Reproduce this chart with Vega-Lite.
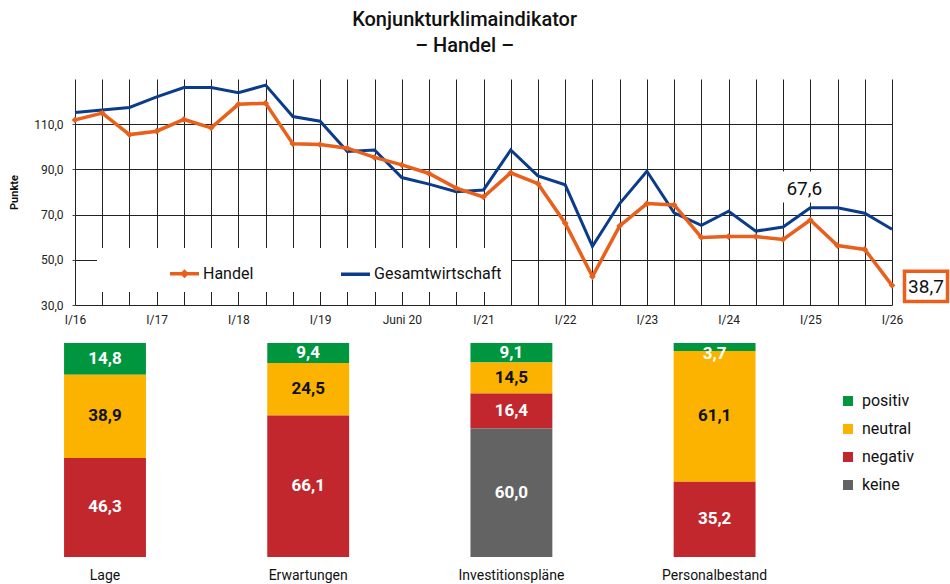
{
  "$schema": "https://vega.github.io/schema/vega-lite/v6.json",
  "padding": {"left": 8, "top": 10, "right": 2, "bottom": 2},
  "config": {
    "font": "Roboto",
    "view": {"stroke": null},
    "locale": {"number": {"decimal": ",", "thousands": ".", "grouping": [3], "currency": ["", " €"]}}
  },
  "title": {
    "text": ["Konjunkturklimaindikator", "– Handel –"],
    "fontSize": 20,
    "fontWeight": 500,
    "lineHeight": 26,
    "anchor": "middle",
    "color": "#111",
    "offset": 23,
    "dx": -17
  },
  "spacing": 17,
  "resolve": {"scale": {"color": "independent"}, "legend": {"color": "independent"}},
  "datasets": {
    "klima": [
      {"p": "I/16", "Reihe": "Handel", "v": 111.9},
      {"p": "II/16", "Reihe": "Handel", "v": 114.9},
      {"p": "III/16", "Reihe": "Handel", "v": 105.4},
      {"p": "I/17", "Reihe": "Handel", "v": 106.9},
      {"p": "II/17", "Reihe": "Handel", "v": 112.1},
      {"p": "III/17", "Reihe": "Handel", "v": 108.4},
      {"p": "I/18", "Reihe": "Handel", "v": 118.8},
      {"p": "II/18", "Reihe": "Handel", "v": 119.3},
      {"p": "III/18", "Reihe": "Handel", "v": 101.3},
      {"p": "I/19", "Reihe": "Handel", "v": 101.0},
      {"p": "II/19", "Reihe": "Handel", "v": 99.4},
      {"p": "III/19", "Reihe": "Handel", "v": 95.3},
      {"p": "Juni 20", "Reihe": "Handel", "v": 92.0},
      {"p": "II/20", "Reihe": "Handel", "v": 88.2},
      {"p": "III/20", "Reihe": "Handel", "v": 81.7},
      {"p": "I/21", "Reihe": "Handel", "v": 77.8},
      {"p": "II/21", "Reihe": "Handel", "v": 88.5},
      {"p": "III/21", "Reihe": "Handel", "v": 83.7},
      {"p": "I/22", "Reihe": "Handel", "v": 66.2},
      {"p": "II/22", "Reihe": "Handel", "v": 42.6},
      {"p": "III/22", "Reihe": "Handel", "v": 65.0},
      {"p": "I/23", "Reihe": "Handel", "v": 74.9},
      {"p": "II/23", "Reihe": "Handel", "v": 74.3},
      {"p": "III/23", "Reihe": "Handel", "v": 59.9},
      {"p": "I/24", "Reihe": "Handel", "v": 60.3},
      {"p": "II/24", "Reihe": "Handel", "v": 60.3},
      {"p": "III/24", "Reihe": "Handel", "v": 59.0},
      {"p": "I/25", "Reihe": "Handel", "v": 67.6},
      {"p": "II/25", "Reihe": "Handel", "v": 56.3},
      {"p": "III/25", "Reihe": "Handel", "v": 54.6},
      {"p": "I/26", "Reihe": "Handel", "v": 38.7},
      {"p": "I/16", "Reihe": "Gesamtwirtschaft", "v": 115.2},
      {"p": "II/16", "Reihe": "Gesamtwirtschaft", "v": 116.3},
      {"p": "III/16", "Reihe": "Gesamtwirtschaft", "v": 117.4},
      {"p": "I/17", "Reihe": "Gesamtwirtschaft", "v": 122.1},
      {"p": "II/17", "Reihe": "Gesamtwirtschaft", "v": 126.2},
      {"p": "III/17", "Reihe": "Gesamtwirtschaft", "v": 126.2},
      {"p": "I/18", "Reihe": "Gesamtwirtschaft", "v": 123.9},
      {"p": "II/18", "Reihe": "Gesamtwirtschaft", "v": 127.3},
      {"p": "III/18", "Reihe": "Gesamtwirtschaft", "v": 113.4},
      {"p": "I/19", "Reihe": "Gesamtwirtschaft", "v": 111.3},
      {"p": "II/19", "Reihe": "Gesamtwirtschaft", "v": 97.9},
      {"p": "III/19", "Reihe": "Gesamtwirtschaft", "v": 98.6},
      {"p": "Juni 20", "Reihe": "Gesamtwirtschaft", "v": 86.4},
      {"p": "II/20", "Reihe": "Gesamtwirtschaft", "v": 83.5},
      {"p": "III/20", "Reihe": "Gesamtwirtschaft", "v": 80.1},
      {"p": "I/21", "Reihe": "Gesamtwirtschaft", "v": 80.9},
      {"p": "II/21", "Reihe": "Gesamtwirtschaft", "v": 98.6},
      {"p": "III/21", "Reihe": "Gesamtwirtschaft", "v": 87.1},
      {"p": "I/22", "Reihe": "Gesamtwirtschaft", "v": 83.2},
      {"p": "II/22", "Reihe": "Gesamtwirtschaft", "v": 56.0},
      {"p": "III/22", "Reihe": "Gesamtwirtschaft", "v": 74.9},
      {"p": "I/23", "Reihe": "Gesamtwirtschaft", "v": 89.2},
      {"p": "II/23", "Reihe": "Gesamtwirtschaft", "v": 70.8},
      {"p": "III/23", "Reihe": "Gesamtwirtschaft", "v": 65.2},
      {"p": "I/24", "Reihe": "Gesamtwirtschaft", "v": 71.5},
      {"p": "II/24", "Reihe": "Gesamtwirtschaft", "v": 62.7},
      {"p": "III/24", "Reihe": "Gesamtwirtschaft", "v": 64.5},
      {"p": "I/25", "Reihe": "Gesamtwirtschaft", "v": 73.0},
      {"p": "II/25", "Reihe": "Gesamtwirtschaft", "v": 73.0},
      {"p": "III/25", "Reihe": "Gesamtwirtschaft", "v": 70.6},
      {"p": "I/26", "Reihe": "Gesamtwirtschaft", "v": 63.5}
    ],
    "umfrage": [
      {"Frage": "Lage", "Bewertung": "positiv", "Anteil": 14.8},
      {"Frage": "Lage", "Bewertung": "neutral", "Anteil": 38.9},
      {"Frage": "Lage", "Bewertung": "negativ", "Anteil": 46.3},
      {"Frage": "Erwartungen", "Bewertung": "positiv", "Anteil": 9.4},
      {"Frage": "Erwartungen", "Bewertung": "neutral", "Anteil": 24.5},
      {"Frage": "Erwartungen", "Bewertung": "negativ", "Anteil": 66.1},
      {"Frage": "Investitionspläne", "Bewertung": "positiv", "Anteil": 9.1},
      {"Frage": "Investitionspläne", "Bewertung": "neutral", "Anteil": 14.5},
      {"Frage": "Investitionspläne", "Bewertung": "negativ", "Anteil": 16.4},
      {"Frage": "Investitionspläne", "Bewertung": "keine", "Anteil": 60.0},
      {"Frage": "Personalbestand", "Bewertung": "positiv", "Anteil": 3.7},
      {"Frage": "Personalbestand", "Bewertung": "neutral", "Anteil": 61.1},
      {"Frage": "Personalbestand", "Bewertung": "negativ", "Anteil": 35.2}
    ]
  },
  "vconcat": [
    {
      "width": 817,
      "height": 226,
      "data": {"name": "klima"},
      "encoding": {
        "x": {
          "field": "p", "type": "ordinal", "sort": null,
          "scale": {"type": "point", "padding": 0},
          "axis": {
            "title": null, "grid": true, "gridColor": "#222", "gridOpacity": 1, "gridWidth": 1,
            "ticks": false, "domain": false, "labelAngle": 0, "labelPadding": 9,
            "labelFontSize": 12, "labelColor": "#222",
            "labelExpr": "indexof(datum.label, 'I/') === 0 || datum.label === 'Juni 20' ? datum.label : ''"
          }
        },
        "y": {
          "field": "v", "type": "quantitative",
          "scale": {"domain": [30, 130], "nice": false, "zero": false},
          "axis": {
            "values": [30, 50, 70, 90, 110], "format": ".1f", "title": "Punkte",
            "grid": true, "gridColor": "#222", "gridOpacity": 1, "domain": false,
            "tickColor": "#444", "tickSize": 3, "labelPadding": 9, "labelFontSize": 12, "labelColor": "#222",
            "titleFontSize": 11, "titleFontWeight": "bold", "titleColor": "#111", "titlePadding": 14
          }
        }
      },
      "layer": [
        {
          "transform": [{"filter": "datum.Reihe === 'Gesamtwirtschaft'"}],
          "mark": {"type": "line", "strokeWidth": 3},
          "encoding": {
            "color": {
              "field": "Reihe", "type": "nominal",
              "scale": {"domain": ["Handel", "Gesamtwirtschaft"], "range": ["#e8601c", "#0b3c8a"]},
              "legend": {
                "orient": "none", "direction": "horizontal", "legendX": 22, "legendY": 169,
                "title": "\u00a0", "titleOrient": "left", "titlePadding": 62,
                "fillColor": "white", "padding": 9, "labelFontSize": 16, "labelColor": "#111",
                "symbolType": "stroke", "symbolSize": 841, "symbolStrokeWidth": 3.5,
                "columnPadding": 80, "labelOffset": 2,
                "labelExpr": "datum.label === 'Gesamtwirtschaft' ? datum.label + '\u00a0\u00a0\u00a0\u00a0\u00a0\u00a0\u00a0\u00a0\u00a0\u00a0\u00a0\u00a0\u00a0\u00a0\u00a0\u00a0' : datum.label",
                "encode": {"symbols": {"update": {"shape": {"signal": "datum.value === 'Handel' ? 'M-1,0L-0.14,0L0,-0.14L0.14,0L0,0.14L-0.14,0ZM0.14,0L1,0' : 'M-1,0L1,0'"}}}}
              }
            }
          }
        },
        {
          "transform": [{"filter": "datum.Reihe === 'Handel'"}],
          "mark": {"type": "line", "strokeWidth": 3.5},
          "encoding": {"color": {"field": "Reihe", "type": "nominal"}}
        },
        {
          "transform": [{"filter": "datum.Reihe === 'Handel'"}],
          "mark": {"type": "point", "shape": "diamond", "filled": true, "size": 45, "color": "#e8601c", "opacity": 1},
          "encoding": {}
        },
        {
          "transform": [{"filter": "datum.Reihe === 'Handel' && datum.p === 'I/25'"}],
          "mark": {"type": "point", "shape": "M-1,-0.52L1,-0.52L1,0.52L-1,0.52Z", "size": 3600, "filled": true, "color": "white", "opacity": 1, "xOffset": -6, "yOffset": -33},
          "encoding": {}
        },
        {
          "transform": [{"filter": "datum.Reihe === 'Handel' && datum.p === 'I/25'"}],
          "mark": {"type": "text", "fontSize": 19, "color": "#111", "dx": -6, "dy": -31},
          "encoding": {"text": {"field": "v", "type": "quantitative", "format": ".1f"}}
        },
        {
          "transform": [{"filter": "datum.Reihe === 'Handel' && datum.p === 'I/26'"}],
          "mark": {"type": "point", "shape": "M-1,-0.7L1,-0.7L1,0.7L-1,0.7Z", "size": 1850, "filled": false, "fill": "white", "fillOpacity": 1, "stroke": "#e8601c", "strokeWidth": 3.5, "opacity": 1, "xOffset": 34, "yOffset": 1},
          "encoding": {}
        },
        {
          "transform": [{"filter": "datum.Reihe === 'Handel' && datum.p === 'I/26'"}],
          "mark": {"type": "text", "fontSize": 19, "color": "#111", "dx": 34, "dy": 2},
          "encoding": {"text": {"field": "v", "type": "quantitative", "format": ".1f"}}
        }
      ]
    },
    {
      "width": 817,
      "height": 214,
      "data": {"name": "umfrage"},
      "transform": [
        {"calculate": "indexof(['keine', 'negativ', 'neutral', 'positiv'], datum.Bewertung)", "as": "ord"},
        {"stack": "Anteil", "groupby": ["Frage"], "sort": [{"field": "ord", "order": "ascending"}], "as": ["y0", "y1"]},
        {"calculate": "datum.y1 - datum.y0 < 6 ? datum.y1 - 5.3 : (datum.y0 + datum.y1) / 2", "as": "ym"}
      ],
      "encoding": {
        "x": {
          "field": "Frage", "type": "nominal", "sort": null,
          "scale": {"type": "band", "range": [-71.6, 741.2], "paddingInner": 0.597, "paddingOuter": 0.2985},
          "axis": {"title": null, "ticks": false, "domain": false, "labelAngle": 0, "labelPadding": 11, "labelFontSize": 14, "labelColor": "#111"}
        }
      },
      "layer": [
        {
          "mark": {"type": "bar"},
          "encoding": {
            "y": {"field": "y0", "type": "quantitative", "scale": {"domain": [0, 100], "nice": false}, "axis": null},
            "y2": {"field": "y1"},
            "color": {
              "field": "Bewertung", "type": "nominal",
              "scale": {"domain": ["positiv", "neutral", "negativ", "keine"], "range": ["#00963f", "#fbb300", "#c1272d", "#636363"]},
              "legend": {
                "orient": "none", "legendX": 765, "legendY": 50, "title": null,
                "symbolType": "square", "symbolSize": 100, "symbolStrokeWidth": 0,
                "labelFontSize": 16, "labelColor": "#111", "labelOffset": 6, "rowPadding": 12
              }
            }
          }
        },
        {
          "mark": {"type": "text", "fontSize": 17, "fontWeight": "bold"},
          "encoding": {
            "y": {"field": "ym", "type": "quantitative"},
            "text": {"field": "Anteil", "type": "quantitative", "format": ".1f"},
            "color": {"condition": {"test": "datum.Bewertung === 'neutral'", "value": "#111"}, "value": "white"}
          }
        }
      ]
    }
  ]
}
